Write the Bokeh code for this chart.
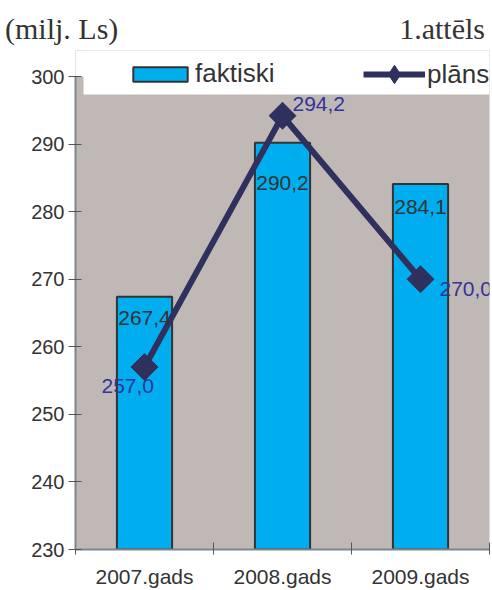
from bokeh.plotting import figure
from bokeh.models import (FixedTicker, Legend, LegendItem, BoxAnnotation,
                          ColumnDataSource, Div)
from bokeh.layouts import column
from bokeh.core.properties import value
from bokeh.embed import file_html
from bokeh.resources import INLINE

categories = ["2007.gads", "2008.gads", "2009.gads"]
faktiski = [267.4, 290.2, 284.1]
plans = [257.0, 294.2, 270.0]
faktiski_labels = ["267,4", "290,2", "284,1"]
plans_labels = ["257,0", "294,2", "270,0"]
y_ticks = [230, 240, 250, 260, 270, 280, 290, 300]
unit_text = "(milj. Ls)"
fig_text = "1.attēls"

FONT = "Liberation Sans"
SERIF = "Liberation Serif"
BG = "#C0B8B5"
BAR = "#00AEEF"
NAVY = "#30305F"

xc = [i + 0.5 for i in range(len(categories))]

# label offsets (pixels, style only)
bar_dy = [21, 40, 23]
plan_dx = [-43, 10, 19]
plan_dy = [19, -12, 10]

src_bar = ColumnDataSource(dict(x=xc, top=faktiski, lab=faktiski_labels, dy=bar_dy))
src_line = ColumnDataSource(dict(x=xc, y=plans, lab=plans_labels, dx=plan_dx, dy=plan_dy))

y_min, y_max = y_ticks[0], y_ticks[-1]
y_top = 303.85  # headroom above the axis for the legend band

header = Div(
    text=(f'<div style="box-sizing:border-box;width:492px;display:flex;'
          f'justify-content:space-between;'
          f'font-family:\'{SERIF}\';font-size:30px;line-height:34px;color:#333333;'
          f'padding:12px 7px 0 5px;white-space:nowrap;">'
          f'<span>{unit_text}</span><span>{fig_text}</span></div>'),
    width=492, height=50, margin=0)

p = figure(width=492, height=540, output_backend="svg", toolbar_location=None,
           x_range=(0, 3), y_range=(y_min, y_top),
           min_border_left=75, min_border_right=3, min_border_top=0, min_border_bottom=41)
p.margin = 0
p.background_fill_color = BG
p.border_fill_color = "white"
p.outline_line_color = None
p.xgrid.visible = False
p.ygrid.visible = False

# white band under / above legend
p.add_layout(BoxAnnotation(bottom=297.34, left=0.058, fill_color="white", fill_alpha=1,
                           line_color=None, level="underlay"))
p.add_layout(BoxAnnotation(bottom=y_max, fill_color="white", fill_alpha=1,
                           line_color=None, level="underlay"))

bars = p.vbar(x="x", top="top", bottom=y_min, width=0.4, source=src_bar,
              fill_color=BAR, line_color="#333333", line_width=2)
line = p.line(x="x", y="y", source=src_line, line_color=NAVY, line_width=6)
# diamond used for the legend entry (hidden below the plotted markers)
leg_mark = p.scatter(x="x", y="y", source=src_line, marker="diamond", size=16,
                     fill_color=NAVY, line_color=NAVY)
marks = p.scatter(x="x", y="y", source=src_line, marker="square", angle=0.785398,
                  size=19, fill_color=NAVY, line_color=NAVY)

p.text(x="x", y="top", text="lab", source=src_bar, y_offset="dy",
       text_align="center", text_baseline="middle", text_color="#333333",
       text_font=value(FONT), text_font_size="21px")
p.text(x="x", y="y", text="lab", source=src_line, x_offset="dx", y_offset="dy",
       text_align="left", text_baseline="middle", text_color="#333399",
       text_font=value(FONT), text_font_size="21px")

# axes
ya = p.yaxis[0]
ya.ticker = FixedTicker(ticks=y_ticks)
ya.bounds = (y_min, y_max)
ya.minor_tick_line_color = None
ya.major_tick_in = 6
ya.major_tick_out = 7
ya.major_tick_line_color = "#555555"
ya.axis_line_color = "#7A8590"
ya.axis_line_width = 2
ya.major_label_text_font = FONT
ya.major_label_text_font_size = "20px"
ya.major_label_text_color = "#333333"
ya.major_label_standoff = 4

xa = p.xaxis[0]
xa.ticker = FixedTicker(ticks=xc, minor_ticks=[0, 1, 2, 3])
xa.major_label_overrides = {x: c for x, c in zip(xc, categories)}
xa.major_tick_in = 0
xa.major_tick_out = 0
xa.minor_tick_in = 7
xa.minor_tick_out = 5
xa.minor_tick_line_color = "#555555"
xa.axis_line_color = "#7A8590"
xa.axis_line_width = 2
xa.major_label_text_font = FONT
xa.major_label_text_font_size = "21px"
xa.major_label_text_color = "#333333"
xa.major_label_standoff = 10

leg1 = Legend(items=[LegendItem(label="faktiski", renderers=[bars])],
              location=(51, 460), padding=0, margin=0, glyph_width=68, glyph_height=18,
              label_height=26, label_standoff=1, label_text_font=FONT,
              label_text_font_size="26px", label_text_color="#333333",
              background_fill_alpha=0, border_line_alpha=0)
leg2 = Legend(items=[LegendItem(label="plāns", renderers=[line, leg_mark])],
              location=(288, 452), padding=0, margin=0, glyph_width=62, glyph_height=46,
              label_height=26, label_standoff=2, label_text_font=FONT,
              label_text_font_size="26px", label_text_color="#333333",
              background_fill_alpha=0, border_line_alpha=0)
p.add_layout(leg1, "center")
p.add_layout(leg2, "center")

layout = column(header, p, spacing=0)
layout.margin = 0

open("out.html", "w").write(file_html(layout, INLINE))
